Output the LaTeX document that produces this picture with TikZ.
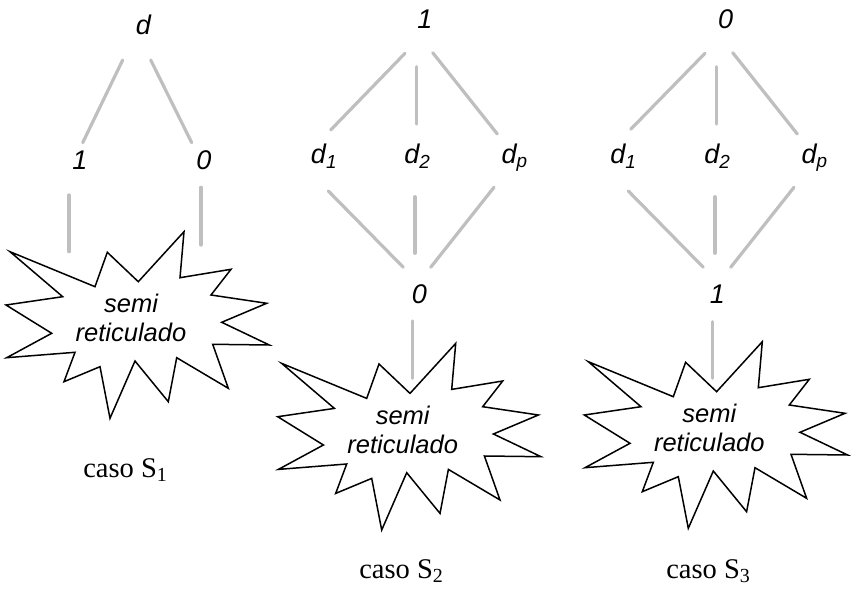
\documentclass[tikz,border=0pt]{standalone}
\usepackage{fontspec}
\setmainfont{Liberation Serif}
\newfontfamily\labelfont{Liberation Sans}
\begin{document}
\begin{tikzpicture}[x=1pt,y=-1pt,
  lbl/.style={font=\labelfont\itshape\fontsize{27}{27}\selectfont, inner sep=0pt, anchor=base},
  edge/.style={draw=black!25, line width=3.2pt, line cap=round},
  burstline/.style={draw=black, line width=1.5pt, fill=white, line join=miter, miter limit=20},
  bursttext/.style={font=\labelfont\itshape\fontsize{25.5}{29.4}\selectfont, align=center, inner sep=0pt},
  caption/.style={font=\fontsize{28.5}{28.5}\selectfont, inner sep=0pt, anchor=base},
  starburst/.pic={
    \path[burstline] (10,251.7) -- (95,286.7) -- (107.3,252.3) -- (138.3,281.7)
      -- (184,231.7) -- (180,277.7) -- (231,269.3) -- (211,295) -- (266.7,303.3)
      -- (221.7,322.3) -- (269.3,345) -- (212.7,344.3) -- (228.3,388.3)
      -- (176.7,357.7) -- (168.3,401.7) -- (135,361) -- (110,418.3) -- (100,366.7)
      -- (64,381.7) -- (75,352.3) -- (6.7,357.7) -- (51.7,333.3) -- (6,305)
      -- (62.7,296.7) -- cycle;
  }]
\useasboundingbox (0,0) rectangle (851,593);

% ---- caso S1 ----
\pic at (0,0) {starburst};
\node[bursttext] (sr1) at (131,318) {semi\\reticulado};
\coordinate (b1l) at (69,251.7);
\coordinate (b1r) at (201,245);
\node[lbl] (d)     at (143.3,35)  {d};
\node[lbl] (one1)  at (80,169.3)  {1};
\node[lbl] (zero1) at (204,169.3) {0};
\draw[edge] ([shift={(-20.6,25)}]d.base) -- ([shift={(2.7,-26.6)}]one1.base);
\draw[edge] ([shift={(7.4,25)}]d.base) -- ([shift={(-12.3,-26.6)}]zero1.base);
\draw[edge] ([shift={(-11,25.7)}]one1.base) -- (b1l);
\draw[edge] ([shift={(-3,18)}]zero1.base) -- (b1r);
\node[caption] (c1) at (125.3,477) {caso S\textsubscript{1}};

% ---- caso S2 ----
\pic at (271.7,111.7) {starburst};
\node[bursttext] (sr2) at (402.7,429.7) {semi\\reticulado};
\coordinate (b2) at (412.7,378.3);
\node[lbl] (top2) at (425,28.3)    {1};
\node[lbl] (a1)   at (324,164)     {d\textsubscript{1}};
\node[lbl] (a2)   at (417.3,164)   {d\textsubscript{2}};
\node[lbl] (ap)   at (514.7,164)   {d\textsubscript{p}};
\node[lbl] (bot2) at (419.3,303.3) {0};
\draw[edge] ([shift={(-20,25)}]top2.base) -- ([shift={(6.7,-34)}]a1.base);
\draw[edge] ([shift={(-8.3,38.4)}]top2.base) -- ([shift={(-0.6,-40)}]a2.base);
\draw[edge] ([shift={(7.7,24.4)}]top2.base) -- ([shift={(-17.4,-30)}]ap.base);
\draw[edge] ([shift={(4.3,27)}]a1.base) -- ([shift={(-16,-36)}]bot2.base);
\draw[edge] ([shift={(-2.3,32.7)}]a2.base) -- ([shift={(-4.3,-50)}]bot2.base);
\draw[edge] ([shift={(-20.7,23.3)}]ap.base) -- ([shift={(11.4,-36)}]bot2.base);
\draw[edge] ([shift={(-6.6,17.7)}]bot2.base) -- (b2);
\node[caption] (c2) at (401.3,578) {caso S\textsubscript{2}};

% ---- caso S3 ----
\pic at (578.3,110) {starburst};
\node[bursttext] (sr3) at (709.3,428) {semi\\reticulado};
\coordinate (b3) at (712.7,378.3);
\node[lbl] (top3) at (725.7,28.3) {0};
\node[lbl] (e1)   at (623.3,164)  {d\textsubscript{1}};
\node[lbl] (e2)   at (717.3,164)  {d\textsubscript{2}};
\node[lbl] (ep)   at (814.7,164)  {d\textsubscript{p}};
\node[lbl] (bot3) at (717.3,304)  {1};
\draw[edge] ([shift={(-20.7,25)}]top3.base) -- ([shift={(7.4,-34.7)}]e1.base);
\draw[edge] ([shift={(-9,38.4)}]top3.base) -- ([shift={(-0.6,-40)}]e2.base);
\draw[edge] ([shift={(7,24.4)}]top3.base) -- ([shift={(-17.4,-30)}]ep.base);
\draw[edge] ([shift={(5,27)}]e1.base) -- ([shift={(-14,-36.7)}]bot3.base);
\draw[edge] ([shift={(-2.3,32.7)}]e2.base) -- ([shift={(-2.3,-50.7)}]bot3.base);
\draw[edge] ([shift={(-20.7,23.3)}]ep.base) -- ([shift={(13.4,-36.7)}]bot3.base);
\draw[edge] ([shift={(-4.6,17.7)}]bot3.base) -- (b3);
\node[caption] (c3) at (708.3,578) {caso S\textsubscript{3}};
\end{tikzpicture}
\end{document}
